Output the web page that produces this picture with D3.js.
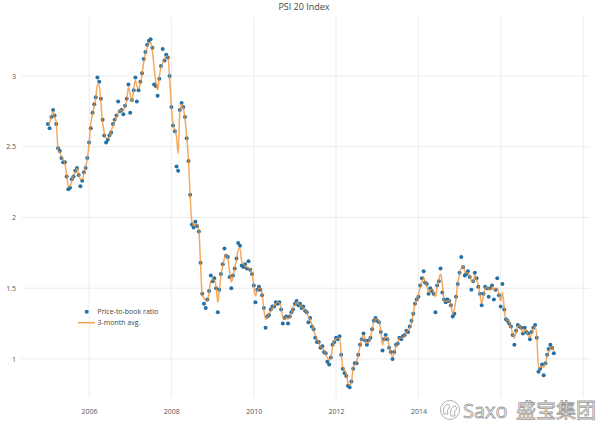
<!DOCTYPE html>
<html><head><meta charset="utf-8">
<script src="https://cdn.jsdelivr.net/npm/d3@7"></script>
<style>
html,body{margin:0;padding:0;background:#fff;}
svg{display:block;font-family:"Open Sans",sans-serif;}
</style></head>
<body><svg id="c" width="608" height="425"></svg>
<script>
// ---- data (semi-monthly observations from Jan 2005) ----
const startYear = 2005, startMonth = 0;
const ratioValues = [
2.66,2.63,2.71,2.76,2.72,2.66,2.49,2.47,2.42,2.39,
2.39,2.29,2.20,2.21,2.27,2.29,2.33,2.35,2.30,2.22,
2.26,2.32,2.35,2.42,2.53,2.63,2.74,2.80,2.85,2.99,
2.96,2.84,2.69,2.58,2.53,2.55,2.58,2.60,2.66,2.69,
2.72,2.82,2.75,2.76,2.73,2.79,2.84,2.94,2.74,2.83,
2.90,2.99,2.82,2.90,2.96,3.02,3.12,3.17,3.22,3.25,
3.26,3.20,2.94,2.93,2.86,2.98,3.07,3.19,3.11,3.15,
3.13,3.00,2.78,2.65,2.61,2.36,2.33,2.76,2.81,2.78,
2.71,2.56,2.40,2.16,1.95,1.93,1.97,1.94,1.90,1.68,
1.46,1.39,1.36,1.42,1.48,1.59,1.55,1.57,1.50,1.33,
1.49,1.60,1.67,1.78,1.73,1.72,1.58,1.50,1.59,1.64,
1.71,1.82,1.80,1.66,1.65,1.67,1.64,1.69,1.63,1.60,
1.52,1.40,1.49,1.51,1.49,1.45,1.36,1.22,1.30,1.31,
1.35,1.37,1.37,1.40,1.39,1.40,1.35,1.25,1.29,1.30,
1.25,1.30,1.33,1.35,1.39,1.41,1.38,1.39,1.36,1.37,
1.34,1.33,1.26,1.29,1.23,1.21,1.15,1.12,1.12,1.08,
1.09,1.05,1.04,0.98,0.96,1.01,1.10,1.12,1.15,1.14,
1.16,1.03,0.93,0.90,0.88,0.81,0.80,0.84,0.93,0.97,
0.97,1.03,1.10,1.14,1.18,1.13,1.10,1.13,1.15,1.21,
1.27,1.29,1.27,1.26,1.19,1.06,1.14,1.17,1.14,1.08,
1.05,1.00,1.05,1.10,1.11,1.15,1.14,1.16,1.17,1.20,
1.19,1.23,1.27,1.32,1.39,1.42,1.44,1.52,1.57,1.62,
1.54,1.53,1.46,1.50,1.48,1.46,1.33,1.52,1.55,1.64,
1.47,1.42,1.40,1.42,1.41,1.38,1.30,1.32,1.44,1.53,
1.61,1.72,1.65,1.59,1.60,1.62,1.58,1.49,1.55,1.61,
1.57,1.51,1.46,1.38,1.46,1.51,1.50,1.44,1.50,1.52,
1.42,1.49,1.57,1.45,1.37,1.53,1.35,1.28,1.27,1.25,
1.23,1.17,1.10,1.20,1.24,1.23,1.22,1.18,1.22,1.19,
1.18,1.14,1.19,1.22,1.24,1.15,0.91,0.93,0.96,0.885,
0.97,1.03,1.07,1.10,1.08,1.04
];
const avgValues = [
2.66,2.67,2.72,2.75,2.71,2.67,2.48,2.46,2.43,2.41,
2.38,2.30,2.22,2.22,2.26,2.30,2.32,2.35,2.31,2.27,
2.27,2.31,2.36,2.41,2.52,2.66,2.73,2.79,2.84,2.94,
2.93,2.81,2.67,2.60,2.56,2.56,2.57,2.61,2.65,2.68,
2.71,2.74,2.76,2.755,2.755,2.785,2.83,2.92,2.87,2.82,
2.91,2.97,2.93,2.91,2.95,3.01,3.10,3.16,3.20,3.23,
3.24,3.18,3.06,2.96,2.90,3.00,3.06,3.09,3.12,3.14,
3.14,2.99,2.79,2.66,2.62,2.57,2.45,2.75,2.80,2.775,
2.70,2.57,2.41,2.15,1.97,1.94,1.95,1.95,1.91,1.67,
1.45,1.43,1.41,1.41,1.47,1.55,1.56,1.56,1.51,1.40,
1.48,1.59,1.66,1.71,1.74,1.71,1.62,1.545,1.58,1.645,
1.70,1.77,1.78,1.69,1.673,1.66,1.648,1.643,1.635,1.61,
1.51,1.445,1.485,1.50,1.50,1.46,1.35,1.28,1.295,1.317,
1.34,1.36,1.378,1.39,1.40,1.395,1.36,1.295,1.28,1.294,
1.28,1.295,1.325,1.355,1.385,1.40,1.39,1.38,1.37,1.36,
1.345,1.33,1.30,1.28,1.24,1.205,1.17,1.145,1.115,1.085,
1.08,1.06,1.035,1.01,0.99,1.00,1.09,1.13,1.14,1.147,
1.15,1.04,0.94,0.925,0.89,0.83,0.815,0.83,0.94,0.96,
0.98,1.025,1.09,1.145,1.17,1.135,1.11,1.12,1.16,1.205,
1.265,1.285,1.28,1.265,1.20,1.10,1.135,1.16,1.15,1.09,
1.04,1.02,1.045,1.09,1.12,1.146,1.148,1.15,1.17,1.19,
1.20,1.22,1.255,1.33,1.385,1.415,1.45,1.51,1.54,1.58,
1.55,1.52,1.47,1.49,1.49,1.47,1.44,1.51,1.56,1.60,
1.53,1.415,1.407,1.41,1.415,1.38,1.32,1.355,1.43,1.535,
1.60,1.64,1.66,1.62,1.607,1.61,1.585,1.55,1.545,1.59,
1.56,1.52,1.455,1.39,1.45,1.50,1.51,1.49,1.49,1.51,
1.485,1.50,1.50,1.46,1.41,1.47,1.36,1.276,1.276,1.26,
1.225,1.18,1.146,1.19,1.23,1.24,1.21,1.185,1.21,1.20,
1.17,1.15,1.18,1.215,1.23,1.16,0.94,0.94,0.95,0.94,
0.965,1.02,1.05,1.075,1.087,1.05
];
const yTicks = [1, 1.5, 2, 2.5, 3];
const xTickYears = [2006, 2008, 2010, 2012, 2014, 2016, 2018];
const labelledYears = [2006, 2008, 2010, 2012, 2014];
const seriesNames = ["Price-to-book ratio", "3-month avg."];
const titleText = "PSI 20 Index";

// ---- build ----
const dateAt = i => new Date(startYear, startMonth + Math.floor(i / 2), i % 2 ? 16 : 1);
const dots = ratioValues.map((v, i) => ({d: dateAt(i), v}));
const avg = avgValues.map((v, i) => ({d: dateAt(i), v}));

const svg = d3.select("#c");
const L = 22, R = 590, T = 17, B = 398;
const x = d3.scaleTime().domain([new Date(2004, 4, 16), new Date(2018, 2, 3)]).range([L, R]);
const y = d3.scaleLinear().domain([0.724, 3.417]).range([B, T]);

const DOT = "#2471a8", LINE = "#f28e2b", GRID = "#ececec", TXT = "#555";

// grid
svg.append("g").selectAll("line").data(yTicks).join("line")
  .attr("x1", L).attr("x2", R).attr("y1", d => y(d)).attr("y2", d => y(d))
  .attr("stroke", GRID).attr("stroke-width", 1);
svg.append("g").selectAll("line").data(xTickYears).join("line")
  .attr("x1", d => x(new Date(d, 0, 1))).attr("x2", d => x(new Date(d, 0, 1)))
  .attr("y1", T).attr("y2", B).attr("stroke", GRID).attr("stroke-width", 1);

// axes labels through d3 axes
const yAxis = d3.axisLeft(y).tickValues(yTicks).tickSize(0).tickPadding(0).tickFormat(d3.format("~g"));
const yg = svg.append("g").attr("transform", `translate(16,0)`).call(yAxis);
yg.select(".domain").remove();
yg.selectAll("text").attr("fill", TXT).attr("font-size", 7).attr("font-family", "Open Sans");

const xAxis = d3.axisBottom(x).tickValues(labelledYears.map(yv => new Date(yv, 0, 1)))
  .tickSize(0).tickPadding(0).tickFormat(d3.timeFormat("%Y"));
const xg = svg.append("g").attr("transform", `translate(0,409)`).call(xAxis);
xg.select(".domain").remove();
xg.selectAll("text").attr("fill", TXT).attr("font-size", 7).attr("font-family", "Open Sans");

// dots
svg.append("g").selectAll("circle").data(dots).join("circle")
  .attr("cx", d => x(d.d)).attr("cy", d => y(d.v)).attr("r", 2)
  .attr("fill", DOT);

// avg line
svg.append("path").datum(avg)
  .attr("d", d3.line().x(d => x(d.d)).y(d => y(d.v)).curve(d3.curveMonotoneX))
  .attr("fill", "none").attr("stroke", LINE).attr("stroke-width", 1.5).attr("stroke-opacity", 0.75)
  .attr("stroke-linejoin", "round");

// title
svg.append("text").attr("x", 304).attr("y", 10).attr("text-anchor", "middle")
  .attr("font-size", 9).attr("fill", "#444").text(titleText);

// legend
const lg = svg.append("g");
lg.append("circle").attr("cx", 86.7).attr("cy", 311.7).attr("r", 2).attr("fill", DOT);
lg.append("line").attr("x1", 78).attr("x2", 95).attr("y1", 322.7).attr("y2", 322.7)
  .attr("stroke", LINE).attr("stroke-width", 1.5).attr("stroke-opacity", 0.85);
lg.selectAll("text").data(seriesNames).join("text")
  .attr("x", 97.5).attr("y", (d, i) => 314.2 + i * 11)
  .attr("font-size", 7).attr("fill", "#444").text(d => d);

// watermark
const wm = svg.append("g").attr("fill", "#fff").attr("stroke", "#9a9a9a").attr("stroke-width", 0.8);
wm.append("circle").attr("cx", 450).attr("cy", 410).attr("r", 9.5).attr("fill", "none");
wm.append("path").attr("d", "M444,414 q-2,-8 4,-10 q3,1 1,4 q-3,2 -1,6 z M451,416 q-2,-8 4,-10 q3,1 1,4 q-3,2 -1,6 z");
wm.append("text").attr("x", 463).attr("y", 418).attr("font-size", 20)
  .attr("font-family", "Open Sans").text("Saxo");
wm.append("text").attr("x", 516).attr("y", 418).attr("font-size", 20)
  .attr("font-family", "Noto Sans CJK SC").text("盛宝集团");
</script></body></html>
